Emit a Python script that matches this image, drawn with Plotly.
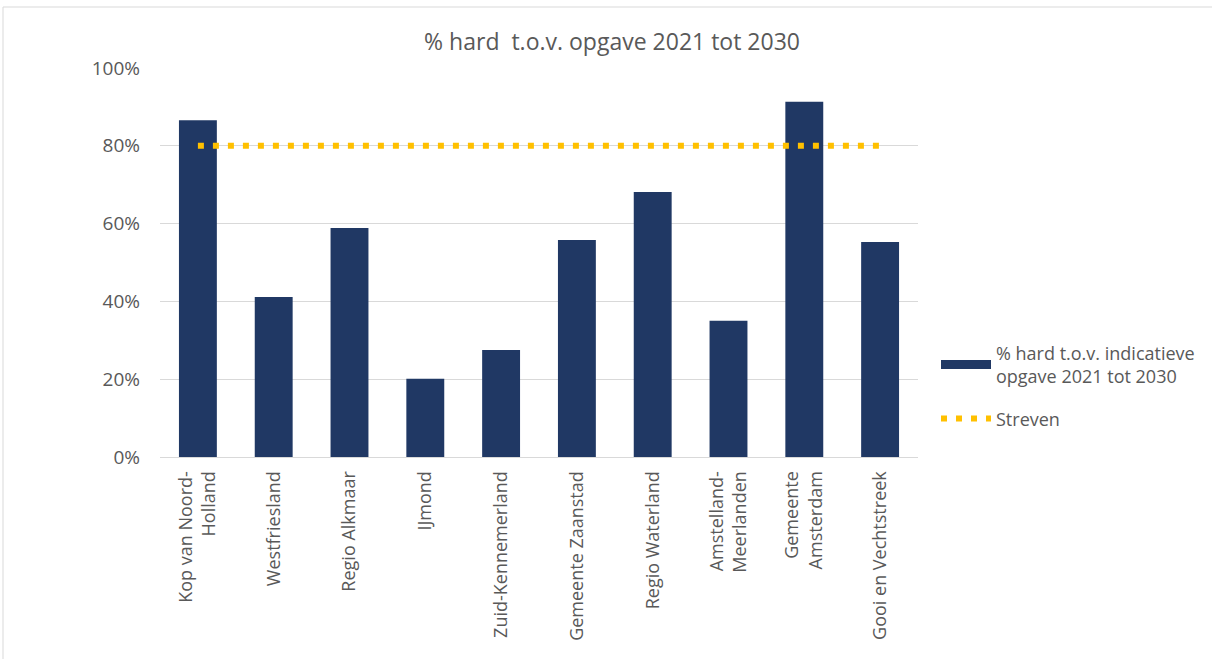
import plotly.graph_objects as go

categories = ["Kop van Noord-<br>Holland", "Westfriesland", "Regio Alkmaar", "IJmond",
              "Zuid-Kennemerland", "Gemeente Zaanstad", "Regio Waterland",
              "Amstelland-<br>Meerlanden", "Gemeente<br>Amsterdam", "Gooi en Vechtstreek"]
hard_pct = [0.866, 0.411, 0.589, 0.201, 0.275, 0.558, 0.681, 0.350, 0.913, 0.553]
streven = [0.80] * len(categories)

W, H = 1212, 659
L, R, T, B = 160, 294, 68, 202
pw, ph = W - L - R, H - T - B

font = "Open Sans, Liberation Sans, sans-serif"
grey = "#595959"
navy = "#203864"
bar_name = "% hard t.o.v. indicatieve<br>opgave 2021 tot 2030"

fig = go.Figure()
fig.add_trace(go.Bar(x=categories, y=hard_pct, name=bar_name, showlegend=False,
                     marker=dict(color=navy, line=dict(width=0)), width=0.5))
# legend-only proxy so the legend key is a wide bar like the original
fig.add_trace(go.Scatter(x=[None], y=[None], name=bar_name, mode="lines", legendgroup="a",
                         line=dict(color=navy, width=9)))
fig.add_trace(go.Scatter(x=categories, y=streven, name="Streven", mode="lines", legendgroup="b",
                         line=dict(color="#FFC000", width=6, dash="6px,9px")))

def px_to_paper_x(px):
    return (px - L) / pw

def px_to_paper_y(py):
    return (H - B - py) / ph

fig.add_shape(type="rect", xref="paper", yref="paper",
              x0=px_to_paper_x(3), x1=px_to_paper_x(1230),
              y0=px_to_paper_y(680), y1=px_to_paper_y(7),
              line=dict(color="#D9D9D9", width=1), fillcolor="rgba(0,0,0,0)", layer="below")

fig.update_layout(
    width=W, height=H,
    margin=dict(l=L, r=R, t=T, b=B),
    plot_bgcolor="white", paper_bgcolor="white",
    font=dict(family=font, color=grey, size=18),
    title=dict(text="% hard  t.o.v. opgave 2021 tot 2030", x=0.505, xanchor="center",
               y=1 - 42 / H, yanchor="middle", font=dict(size=23, color=grey)),
    showlegend=True,
    legend=dict(x=px_to_paper_x(936), y=px_to_paper_y(386), xanchor="left", yanchor="middle",
                font=dict(size=18, color=grey), itemwidth=50, tracegroupgap=16,
                bgcolor="rgba(0,0,0,0)"),
    xaxis=dict(tickangle=-90, tickfont=dict(size=18, color=grey), showgrid=False,
               showline=True, linecolor="#D9D9D9", linewidth=1, ticks="", ticklen=0,
               ticklabelstandoff=6, range=[-0.5, len(categories) - 0.5]),
    yaxis=dict(range=[0, 1.0], tickvals=[0, 0.2, 0.4, 0.6, 0.8, 1.0], tickformat=".0%",
               showgrid=True, gridcolor="#D9D9D9", gridwidth=1, zeroline=False,
               tickfont=dict(size=19, color=grey), ticks="", ticklabelstandoff=19),
)

fig.write_html("out.html")
